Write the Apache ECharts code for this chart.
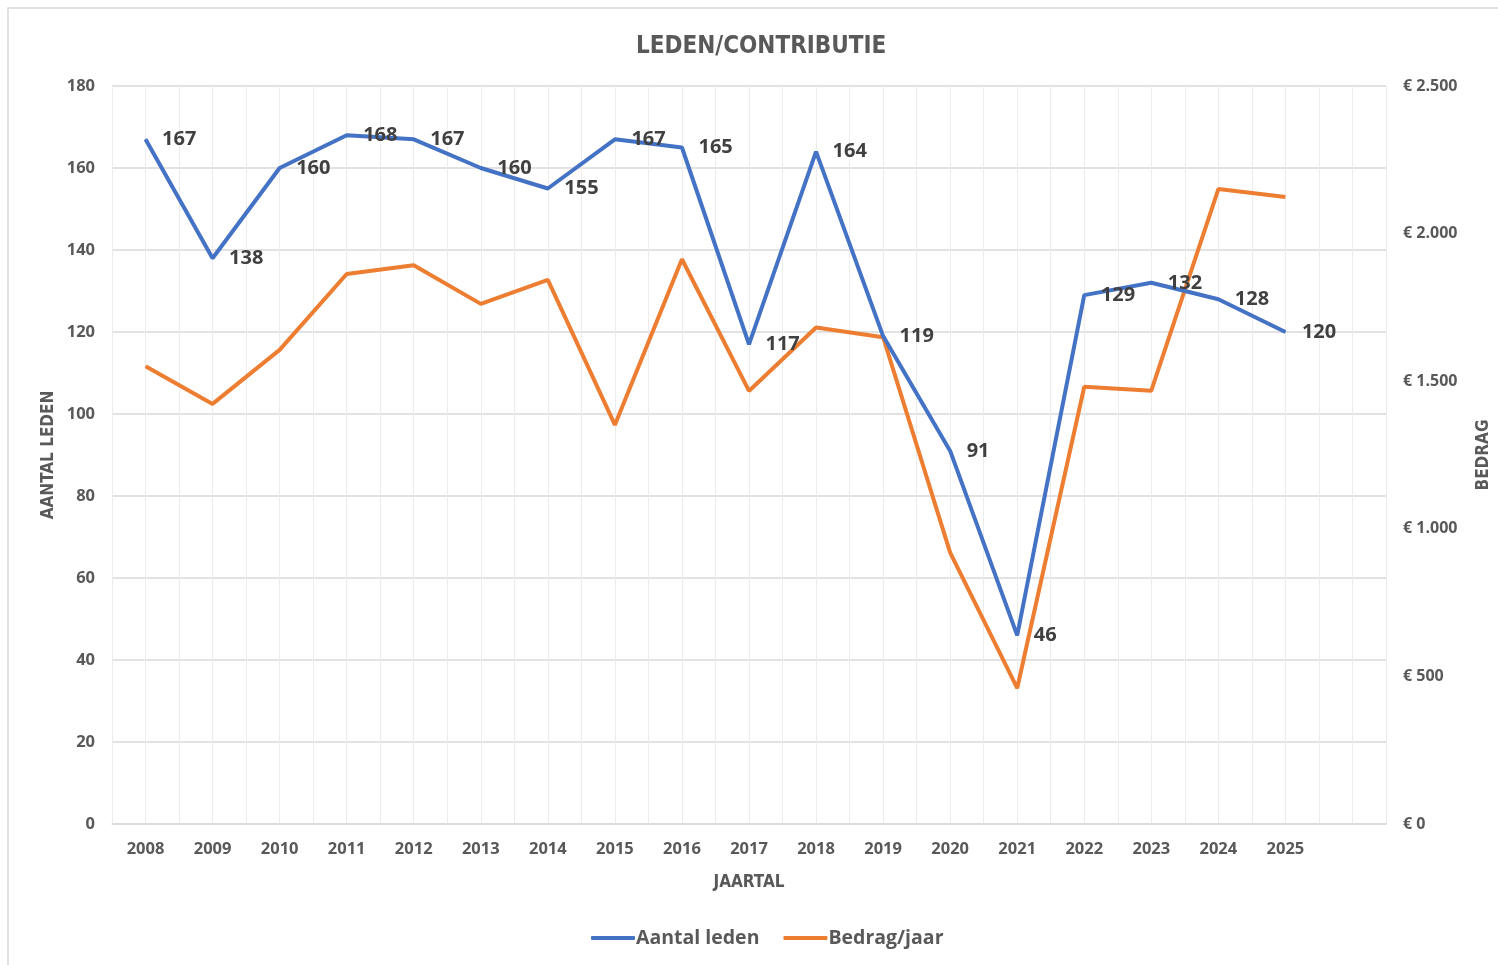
<!DOCTYPE html>
<html>
<head>
<meta charset="utf-8">
<title>Leden/Contributie</title>
<script src="https://cdn.jsdelivr.net/npm/echarts@6/dist/echarts.min.js"></script>
<style>
  html, body { margin: 0; padding: 0; background: #fff; }
  #chart { width: 1498px; height: 965px; }
</style>
</head>
<body>
<div id="chart"></div>
<script>
// jaartallen (laatste categorie is leeg, zoals in de Excel-grafiek)
const years = ['2008', '2009', '2010', '2011', '2012', '2013', '2014', '2015', '2016',
  '2017', '2018', '2019', '2020', '2021', '2022', '2023', '2024', '2025', '']
const aantalLeden = [167, 138, 160, 168, 167, 160, 155, 167, 165, 117, 164, 119, 91, 46, 129, 132, 128, 120]
const bedragJaar = [1551, 1423, 1606, 1863, 1893, 1762, 1843, 1352, 1913, 1467, 1682, 1649, 919, 460, 1481, 1468, 2151, 2124]
const ledenTicks = { min: 0, max: 180, interval: 20 }
const bedragTicks = { min: 0, max: 2500, interval: 500 }
// halve categorieën, alleen voor de fijne verticale rasterlijnen
const halfSlots = years.flatMap(y => [y + 'a', y + 'b'])

const txt = '#595959'
const narrow = "'Liberation Sans Narrow', 'DejaVu Sans Condensed', sans-serif"
const euro = v => '€ ' + String(v).replace(/\B(?=(\d{3})+(?!\d))/g, '.')

const chart = echarts.init(document.getElementById('chart'))

chart.setOption({
  animation: false,
  title: {
    text: 'LEDEN/CONTRIBUTIE',
    left: 631,
    top: 30,
    textStyle: { fontFamily: narrow, fontSize: 24, fontWeight: 'bold', color: txt }
  },
  graphic: [{
    type: 'rect',
    shape: { x: 8, y: 8, width: 1500, height: 1000 },
    style: { fill: 'none', stroke: '#d9d9d9', lineWidth: 1.5 },
    silent: true
  }],
  legend: {
    bottom: 12,
    left: 586,
    icon: 'roundRect',
    itemWidth: 44,
    itemHeight: 4,
    itemGap: 24,
    textStyle: { fontFamily: "'Open Sans', sans-serif", fontSize: 19.5, fontWeight: 'bold', color: txt, padding: [0, 0, 0, -4] }
  },
  grid: { left: 112, right: 112, top: 86, bottom: 141, outerBoundsMode: 'none' },
  xAxis: [{
    type: 'category',
    data: years,
    boundaryGap: true,
    name: 'JAARTAL',
    nameLocation: 'middle',
    nameGap: 50,
    nameMoveOverlap: false,
    nameTextStyle: { fontFamily: narrow, fontSize: 17, fontWeight: 'bold', color: txt },
    axisLine: { lineStyle: { color: '#d9d9d9', width: 1.5 } },
    axisTick: { show: false },
    axisLabel: { interval: 0, margin: 17, fontFamily: "'Open Sans', sans-serif", fontSize: 16.5, fontWeight: 'bold', color: txt },
    splitLine: { show: false }
  }, {
    type: 'category',
    data: halfSlots,
    boundaryGap: true,
    position: 'bottom',
    axisLine: { show: false },
    axisTick: { show: false },
    axisLabel: { show: false },
    splitLine: { show: true, interval: 0, lineStyle: { color: '#ececec', width: 1 } }
  }],
  yAxis: [{
    type: 'value',
    ...ledenTicks,
    name: 'AANTAL LEDEN',
    nameLocation: 'middle',
    nameGap: 55,
    nameRotate: 90,
    nameMoveOverlap: false,
    nameTextStyle: { fontFamily: narrow, fontSize: 17, fontWeight: 'bold', color: txt },
    axisLine: { show: false },
    axisTick: { show: false },
    axisLabel: { margin: 17, fontFamily: "'Open Sans', sans-serif", fontSize: 16.5, fontWeight: 'bold', color: txt },
    splitLine: { lineStyle: { color: '#d9d9d9', width: 1.5 } }
  }, {
    type: 'value',
    ...bedragTicks,
    name: 'BEDRAG',
    nameLocation: 'middle',
    nameGap: 89,
    nameRotate: 90,
    nameMoveOverlap: false,
    nameTextStyle: { fontFamily: narrow, fontSize: 17, fontWeight: 'bold', color: txt },
    axisLine: { show: false },
    axisTick: { show: false },
    axisLabel: { margin: 17, formatter: euro, fontFamily: "'Open Sans', sans-serif", fontSize: 16, fontWeight: 'bold', color: txt },
    splitLine: { show: false }
  }],
  series: [{
    name: 'Aantal leden',
    type: 'line',
    xAxisIndex: 0,
    yAxisIndex: 0,
    data: aantalLeden,
    symbol: 'circle',
    symbolSize: 1,
    showSymbol: true,
    z: 3,
    lineStyle: { color: '#4472C4', width: 4 },
    itemStyle: { color: '#4472C4' },
    label: {
      show: true,
      position: 'right',
      distance: 16,
      offset: [0, 2],
      fontFamily: "'Open Sans', sans-serif",
      fontSize: 20,
      fontWeight: 'bold',
      color: '#404040'
    },
    labelLayout: { hideOverlap: false }
  }, {
    name: 'Bedrag/jaar',
    type: 'line',
    xAxisIndex: 0,
    yAxisIndex: 1,
    data: bedragJaar,
    symbol: 'none',
    z: 2,
    lineStyle: { color: '#ED7D31', width: 4 },
    itemStyle: { color: '#ED7D31' }
  }]
})
</script>
</body>
</html>
